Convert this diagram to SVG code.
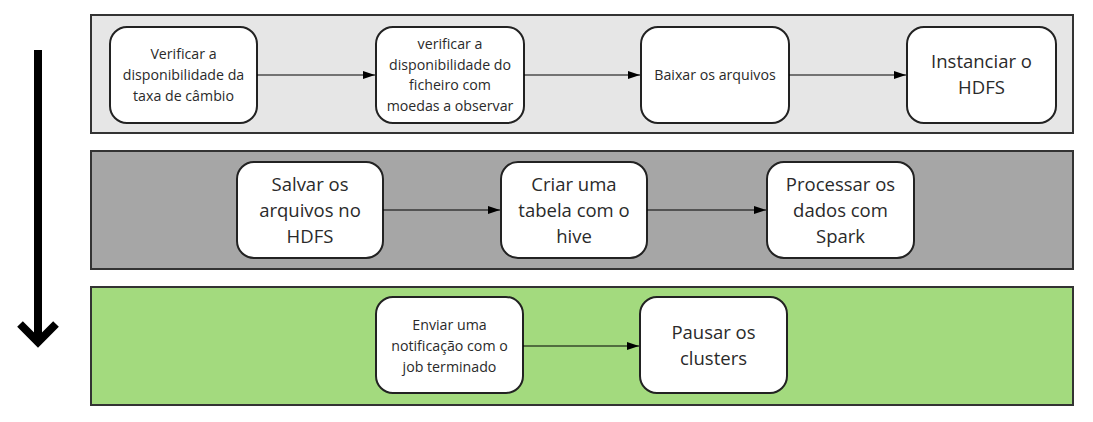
<svg xmlns="http://www.w3.org/2000/svg" width="1093" height="422" viewBox="0 0 1093 422">
<style>
.lane{stroke:#333;stroke-width:2}
.node rect{fill:#fff;stroke:#222;stroke-width:2}
text{font-family:"Open Sans","Noto Sans",sans-serif;fill:#2a2a2a;text-anchor:middle;dominant-baseline:central}
.s{font-size:14.2px}
.b{font-size:18.5px}
.conn line{stroke:#000;stroke-width:1.2}
</style>
<defs>
<marker id="ah" viewBox="0 0 12 8" refX="12" refY="4" markerWidth="12" markerHeight="8" markerUnits="userSpaceOnUse" orient="auto">
<path d="M0,0 L12,4 L0,8 Z" fill="#000"/>
</marker>
</defs>
<rect x="0" y="0" width="1093" height="422" fill="#fff"/>
<g id="lanes">
<rect class="lane" x="91" y="15" width="982" height="118" fill="#e6e6e6"/>
<rect class="lane" x="91" y="151" width="982" height="118" fill="#a6a6a6"/>
<rect class="lane" x="91" y="287" width="982" height="118" fill="#a3da7e"/>
</g>
<g id="flow-arrow">
<line x1="38" y1="50" x2="38" y2="338" stroke="#000" stroke-width="8"/>
<polyline points="20,324 38,342 56,324" fill="none" stroke="#000" stroke-width="8"/>
</g>
<g id="n1" class="node"><rect x="110" y="27" width="147" height="96" rx="17"/>
<text class="s"><tspan x="183.5" y="53">Verificar a</tspan><tspan x="183.5" y="74">disponibilidade da</tspan><tspan x="183.5" y="95">taxa de câmbio</tspan></text></g>
<g id="n2" class="node"><rect x="376" y="27" width="148" height="96" rx="17"/>
<text class="s"><tspan x="450" y="43">verificar a</tspan><tspan x="450" y="63.5">disponibilidade do</tspan><tspan x="450" y="84">ficheiro com</tspan><tspan x="450" y="104.5">moedas a observar</tspan></text></g>
<g id="n3" class="node"><rect x="641" y="27" width="148" height="96" rx="17"/>
<text class="s" x="715" y="74">Baixar os arquivos</text></g>
<g id="n4" class="node"><rect x="907" y="27" width="149" height="96" rx="17"/>
<text class="b"><tspan x="981.5" y="60">Instanciar o</tspan><tspan x="981.5" y="86">HDFS</tspan></text></g>
<g id="n5" class="node"><rect x="237" y="162" width="146" height="96" rx="17"/>
<text class="b"><tspan x="310" y="183">Salvar os</tspan><tspan x="310" y="209">arquivos no</tspan><tspan x="310" y="235">HDFS</tspan></text></g>
<g id="n6" class="node"><rect x="501" y="162" width="146" height="96" rx="17"/>
<text class="b"><tspan x="574" y="183">Criar uma</tspan><tspan x="574" y="209">tabela com o</tspan><tspan x="574" y="235">hive</tspan></text></g>
<g id="n7" class="node"><rect x="767" y="162" width="147" height="96" rx="17"/>
<text class="b"><tspan x="840.5" y="183">Processar os</tspan><tspan x="840.5" y="209">dados com</tspan><tspan x="840.5" y="235">Spark</tspan></text></g>
<g id="n8" class="node"><rect x="376" y="297" width="147" height="96" rx="17"/>
<text class="s"><tspan x="449.5" y="324">Enviar uma</tspan><tspan x="449.5" y="345">notificação com o</tspan><tspan x="449.5" y="366">job terminado</tspan></text></g>
<g id="n9" class="node"><rect x="640" y="297" width="147" height="96" rx="17"/>
<text class="b"><tspan x="713.5" y="331">Pausar os</tspan><tspan x="713.5" y="357">clusters</tspan></text></g>
<g id="connectors" class="conn">
<line x1="257" y1="75" x2="375" y2="75" marker-end="url(#ah)"/>
<line x1="524" y1="75" x2="640" y2="75" marker-end="url(#ah)"/>
<line x1="789" y1="75" x2="906" y2="75" marker-end="url(#ah)"/>
<line x1="383" y1="210" x2="500" y2="210" marker-end="url(#ah)"/>
<line x1="647" y1="210" x2="766" y2="210" marker-end="url(#ah)"/>
<line x1="523" y1="346" x2="639" y2="346" marker-end="url(#ah)"/>
</g>
</svg>
